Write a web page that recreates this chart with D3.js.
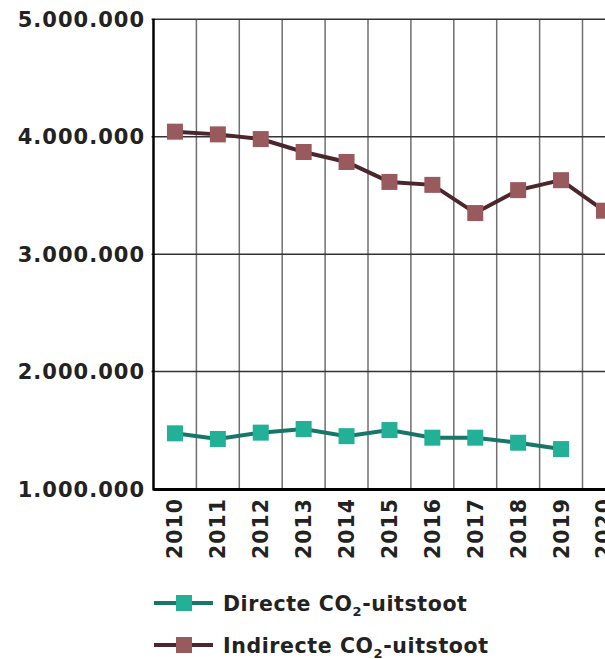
<!DOCTYPE html>
<html>
<head>
<meta charset="utf-8">
<script src="https://cdn.jsdelivr.net/npm/d3@7"></script>
<style>
  body { margin: 0; overflow: hidden; background: #fff; }
  svg { display: block; }
  text { font-family: "DejaVu Sans", sans-serif; font-weight: bold; fill: #222; }
</style>
</head>
<body>
<svg id="chart" width="605" height="659"></svg>
<script>
// years on the x axis (plot runs off the right edge)
let years = ["2010", "2011", "2012", "2013", "2014", "2015", "2016", "2017", "2018", "2019", "2020"];
// direct emissions (no value for 2020)
let direct = [1474000, 1426000, 1480000, 1511000, 1450000, 1502000, 1437000, 1437000, 1394000, 1340000, null];
// indirect emissions
let indirect = [4043000, 4020000, 3980000, 3870000, 3785000, 3615000, 3590000, 3350000, 3545000, 3630000, 3370000];
let yTicks = [1000000, 2000000, 3000000, 4000000, 5000000];
let legendLabels = ["Directe CO", "Indirecte CO"];

let colorDirectLine = '#17766a';
let colorDirectMark = '#22b096';
let colorIndirectLine = '#4b262c';
let colorIndirectMark = '#995a5d';

let svg = d3.select('#chart');

let plotLeft = 153.5, plotTop = 19.3, plotBottom = 489;
let bandW = 42.9;

let x = d3.scaleBand()
  .domain(years)
  .range([plotLeft, plotLeft + bandW * years.length]);

let y = d3.scaleLinear()
  .domain([1000000, 5000000])
  .range([plotBottom, plotTop]);

let fmt = d => d3.format(',')(d).replace(/,/g, '.');

// vertical gridlines on band edges
svg.append('g')
  .selectAll('line')
  .data(years)
  .join('line')
  .attr('x1', d => x(d) + bandW)
  .attr('x2', d => x(d) + bandW)
  .attr('y1', plotTop)
  .attr('y2', plotBottom)
  .attr('stroke', '#6f6f6f')
  .attr('stroke-width', 1.5);

// horizontal gridlines
svg.append('g')
  .selectAll('line')
  .data(yTicks.slice(1))
  .join('line')
  .attr('x1', plotLeft - 2)
  .attr('x2', 640)
  .attr('y1', d => y(d))
  .attr('y2', d => y(d))
  .attr('stroke', '#333')
  .attr('stroke-width', 1.5);

// y labels
svg.append('g')
  .selectAll('text')
  .data(yTicks)
  .join('text')
  .attr('x', 145)
  .attr('y', d => y(d) + 7.5)
  .attr('text-anchor', 'end')
  .attr('font-size', 21)
  .attr('letter-spacing', 1)
  .text(fmt);

// axes lines
svg.append('line')
  .attr('x1', plotLeft).attr('x2', plotLeft)
  .attr('y1', plotTop - 0.5).attr('y2', plotBottom + 1.5)
  .attr('stroke', '#000').attr('stroke-width', 2.5);
svg.append('line')
  .attr('x1', plotLeft).attr('x2', 640)
  .attr('y1', plotBottom + 0.5).attr('y2', plotBottom + 0.5)
  .attr('stroke', '#000').attr('stroke-width', 3);

// x labels, rotated
svg.append('g')
  .selectAll('text')
  .data(years)
  .join('text')
  .attr('transform', d => `translate(${x(d) + x.bandwidth() / 2 + 7.5},498) rotate(-90)`)
  .attr('text-anchor', 'end')
  .attr('font-size', 20.5)
  .attr('letter-spacing', 1)
  .text(d => d);

function series(values, lineColor, markColor) {
  let pts = values.map((v, i) => ({ year: years[i], v: v })).filter(d => d.v != null);
  let line = d3.line()
    .x(d => x(d.year) + x.bandwidth() / 2)
    .y(d => y(d.v));
  svg.append('path')
    .datum(pts)
    .attr('d', line)
    .attr('fill', 'none')
    .attr('stroke', lineColor)
    .attr('stroke-width', 4);
  svg.append('g')
    .selectAll('rect')
    .data(pts)
    .join('rect')
    .attr('x', d => x(d.year) + x.bandwidth() / 2 - 8)
    .attr('y', d => y(d.v) - 8)
    .attr('width', 16)
    .attr('height', 16)
    .attr('fill', markColor);
}

series(direct, colorDirectLine, colorDirectMark);
series(indirect, colorIndirectLine, colorIndirectMark);

// legend
let legend = [
  { label: legendLabels[0], line: colorDirectLine, mark: colorDirectMark, y: 603 },
  { label: legendLabels[1], line: colorIndirectLine, mark: colorIndirectMark, y: 645 }
];
let lg = svg.append('g')
  .selectAll('g')
  .data(legend)
  .join('g')
  .attr('transform', d => `translate(0,${d.y})`);
lg.append('line')
  .attr('x1', 154).attr('x2', 213)
  .attr('stroke', d => d.line).attr('stroke-width', 4);
lg.append('rect')
  .attr('x', 176).attr('y', -8).attr('width', 16).attr('height', 16)
  .attr('fill', d => d.mark);
let lt = lg.append('text')
  .attr('x', 223).attr('y', 7.5)
  .attr('font-size', 20.5)
  .attr('letter-spacing', 0.6);
lt.append('tspan').text(d => d.label);
lt.append('tspan').attr('font-size', 13).attr('dy', 5).text('2');
lt.append('tspan').attr('dy', -5).text('-uitstoot');
</script>
</body>
</html>
